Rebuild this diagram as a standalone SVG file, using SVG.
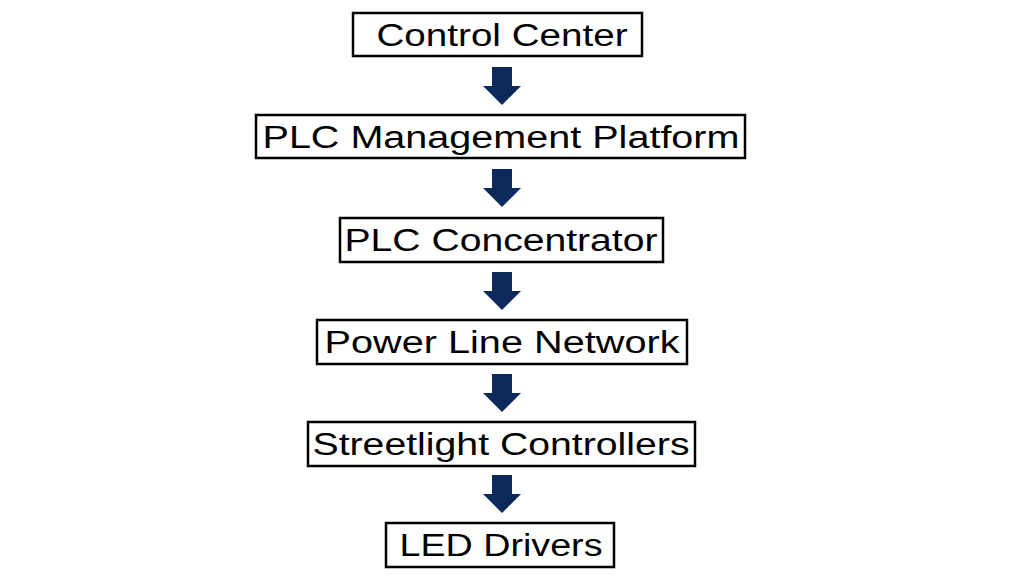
<svg xmlns="http://www.w3.org/2000/svg" width="1024" height="576" viewBox="0 0 1024 576">
<style>
.b{fill:#fff;stroke:#000;stroke-width:2.5}
.t{font-family:"Liberation Sans",Arial,sans-serif;font-size:31px;fill:#000;text-anchor:middle}
.a{fill:#0b2a5b}
</style>
<rect width="1024" height="576" fill="#fff"/>
<g id="connectors">
<path class="a" d="M492 67H512V86H521L502 105L483 86H492Z"/>
<path class="a" d="M492 169H512V188H521L502 207L483 188H492Z"/>
<path class="a" d="M492 272H512V291H521L502 310L483 291H492Z"/>
<path class="a" d="M492 374H512V393H521L502 412L483 393H492Z"/>
<path class="a" d="M492 475H512V494H521L502 513L483 494H492Z"/>
</g>
<g id="n1"><rect class="b" x="353" y="13" width="289" height="43"/><text class="t" x="502" y="46" textLength="251" lengthAdjust="spacingAndGlyphs">Control Center</text></g>
<g id="n2"><rect class="b" x="256" y="115" width="489" height="43"/><text class="t" x="501" y="148" textLength="477" lengthAdjust="spacingAndGlyphs">PLC Management Platform</text></g>
<g id="n3"><rect class="b" x="340" y="218" width="323" height="44"/><text class="t" x="501" y="251" textLength="313" lengthAdjust="spacingAndGlyphs">PLC Concentrator</text></g>
<g id="n4"><rect class="b" x="317" y="320" width="370" height="44"/><text class="t" x="502" y="353" textLength="355" lengthAdjust="spacingAndGlyphs">Power Line Network</text></g>
<g id="n5"><rect class="b" x="308" y="422" width="387" height="44"/><text class="t" x="501" y="455" textLength="377" lengthAdjust="spacingAndGlyphs">Streetlight Controllers</text></g>
<g id="n6"><rect class="b" x="386" y="523" width="228" height="44"/><text class="t" x="501" y="556" textLength="203" lengthAdjust="spacingAndGlyphs">LED Drivers</text></g>
</svg>
